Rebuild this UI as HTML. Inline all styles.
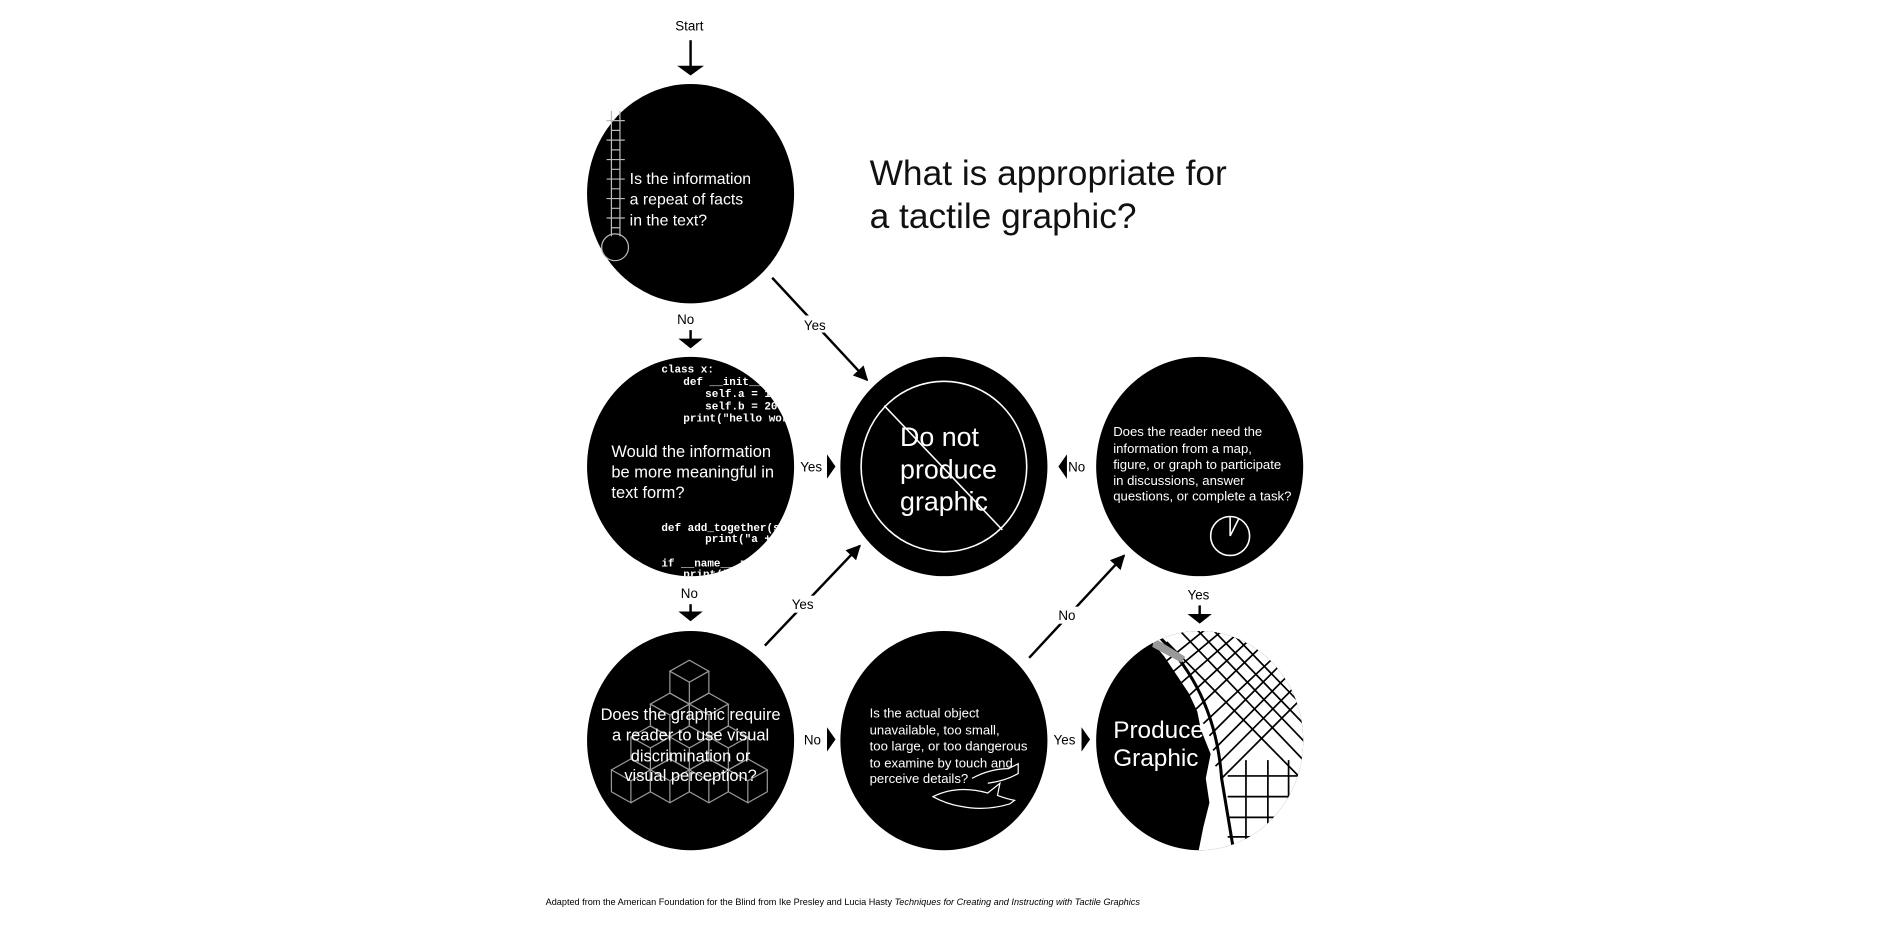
<!DOCTYPE html>
<html><head><meta charset="utf-8"><style>
html,body{margin:0;padding:0;background:#fff;}
svg{display:block;}
text{font-family:"Liberation Sans","DejaVu Sans",sans-serif;}
.w{fill:#fff;}
.l{font-size:11px;fill:#000;}
.code{font-family:"Liberation Mono",monospace;font-size:9px;fill:#fff;font-weight:bold;}
</style></head><body>
<svg width="1900" height="927" viewBox="0 0 1560 761" preserveAspectRatio="none" xmlns="http://www.w3.org/2000/svg">
<defs>
<marker id="ah" viewBox="0 0 10 10" refX="9" refY="5" markerWidth="12" markerHeight="12" orient="auto" markerUnits="userSpaceOnUse">
<path d="M0,0 L10,5 L0,10 z" fill="#000"/></marker>
<clipPath id="c2"><ellipse cx="569" cy="384" rx="85" ry="90"/></clipPath>
<clipPath id="c5"><ellipse cx="569" cy="609" rx="85" ry="90"/></clipPath>
<clipPath id="c7"><ellipse cx="987" cy="609" rx="85" ry="90"/></clipPath>
</defs>
<rect width="1560" height="761" fill="#fff"/>
<g transform="translate(-2,-1)">
<!-- Start -->
<text x="568" y="26" class="l" text-anchor="middle">Start</text>
<line x1="569" y1="34" x2="569" y2="62" stroke="#000" stroke-width="2"/>
<path d="M558,55 L569,63 L580,55 Z" fill="#000"/>

<!-- Title -->
<text x="716" y="153" font-size="29" fill="#111">What is appropriate for</text>
<text x="716" y="188" font-size="29" fill="#111">a tactile graphic?</text>

<!-- C1 -->
<ellipse cx="569" cy="160" rx="85" ry="90" fill="#000"/>
<g stroke="#bbb" stroke-width="1" fill="none">
<line x1="504" y1="92" x2="504" y2="195"/><line x1="511" y1="92" x2="511" y2="195"/>
<circle cx="507" cy="204" r="11"/>
<path d="M500,100h15M504,108h7M500,116h15M504,124h7M500,132h15M504,140h7M500,148h15M504,156h7M500,164h15M504,172h7M500,180h15M504,188h7"/>
</g>
<text x="519" y="152" font-size="13" class="w">Is the information</text>
<text x="519" y="169" font-size="13" class="w">a repeat of facts</text>
<text x="519" y="186" font-size="13" class="w">in the text?</text>

<text x="565" y="267" class="l" text-anchor="middle">No</text>
<line x1="569" y1="272" x2="569" y2="286" stroke="#000" stroke-width="2"/>
<path d="M559,279 L569,287 L579,279 Z" fill="#000"/>
<line x1="636" y1="229" x2="714" y2="313" stroke="#000" stroke-width="2" marker-end="url(#ah)"/>
<rect x="660" y="260" width="24" height="14" fill="#fff"/>
<text x="671" y="272" class="l" text-anchor="middle">Yes</text>

<!-- C2 -->
<ellipse cx="569" cy="384" rx="85" ry="90" fill="#000"/>
<g clip-path="url(#c2)">
<text x="545" y="307" class="code">class x:</text>
<text x="563" y="317" class="code">def __init__(self):</text>
<text x="581" y="327" class="code">self.a = 10</text>
<text x="581" y="337" class="code">self.b = 20</text>
<text x="563" y="347" class="code">print("hello world")</text>
<text x="545" y="437" class="code">def add_together(self):</text>
<text x="581" y="446" class="code">print("a + b")</text>
<text x="545" y="466" class="code">if __name__ == "__main__":</text>
<text x="563" y="475" class="code">print("x")</text>
</g>
<text x="504" y="376" font-size="13.5" class="w">Would the information</text>
<text x="504" y="393" font-size="13.5" class="w">be more meaningful in</text>
<text x="504" y="410" font-size="13.5" class="w">text form?</text>

<text x="668" y="388" class="l" text-anchor="middle">Yes</text>
<path d="M681,374 L688,384 L681,394 Z" fill="#000"/>
<text x="568" y="492" class="l" text-anchor="middle">No</text>
<line x1="569" y1="497" x2="569" y2="510" stroke="#000" stroke-width="2"/>
<path d="M559,503 L569,511 L579,503 Z" fill="#000"/>

<!-- C3 -->
<ellipse cx="777" cy="384" rx="85" ry="90" fill="#000"/>
<ellipse cx="777" cy="384" rx="68" ry="70" fill="none" stroke="#fff" stroke-width="1.3"/>
<line x1="728" y1="334" x2="825" y2="436" stroke="#fff" stroke-width="1.3"/>
<text x="741" y="367" font-size="22" class="w">Do not</text>
<text x="741" y="394" font-size="22" class="w">produce</text>
<text x="741" y="420" font-size="22" class="w">graphic</text>

<!-- C4 -->
<ellipse cx="987" cy="384" rx="85" ry="90" fill="#000"/>
<text x="916" y="359" font-size="10.8" class="w">Does the reader need the</text>
<text x="916" y="373" font-size="10.8" class="w">information from a map,</text>
<text x="916" y="386" font-size="10.8" class="w">figure, or graph to participate</text>
<text x="916" y="399" font-size="10.8" class="w">in discussions, answer</text>
<text x="916" y="412" font-size="10.8" class="w">questions, or complete a task?</text>
<circle cx="1012" cy="441" r="16" fill="none" stroke="#fff" stroke-width="1.3"/>
<line x1="1012" y1="441" x2="1012" y2="425" stroke="#fff" stroke-width="1.3"/>
<line x1="1012" y1="441" x2="1019" y2="427" stroke="#fff" stroke-width="1.3"/>

<path d="M878,374 L871,384 L878,394 Z" fill="#000"/>
<text x="886" y="388" class="l" text-anchor="middle">No</text>
<text x="986" y="493" class="l" text-anchor="middle">Yes</text>
<line x1="987" y1="498" x2="987" y2="512" stroke="#000" stroke-width="2"/>
<path d="M977,505 L987,513 L997,505 Z" fill="#000"/>

<!-- C5 -->
<ellipse cx="569" cy="609" rx="85" ry="90" fill="#000"/>
<g clip-path="url(#c5)" stroke="#999" stroke-width="1" fill="none">
<g id="cube"><path d="M0,0 l16,-9 l16,9 l-16,9 z M0,0 v18 l16,9 v-18 M32,0 v18 l-16,9"/></g>
<use href="#cube" x="552" y="552"/>
<use href="#cube" x="536" y="579"/><use href="#cube" x="568" y="579"/>
<use href="#cube" x="520" y="606"/><use href="#cube" x="552" y="606"/><use href="#cube" x="584" y="606"/>
<use href="#cube" x="504" y="633"/><use href="#cube" x="536" y="633"/><use href="#cube" x="568" y="633"/><use href="#cube" x="600" y="633"/>
</g>
<text x="569" y="592" font-size="13.5" class="w" text-anchor="middle">Does the graphic require</text>
<text x="569" y="609" font-size="13.5" class="w" text-anchor="middle">a reader to use visual</text>
<text x="569" y="626" font-size="13.5" class="w" text-anchor="middle">discrimination or</text>
<text x="569" y="642" font-size="13.5" class="w" text-anchor="middle">visual perception?</text>

<line x1="630" y1="531" x2="708" y2="449" stroke="#000" stroke-width="2" marker-end="url(#ah)"/>
<rect x="650" y="490" width="24" height="14" fill="#fff"/>
<text x="661" y="501" class="l" text-anchor="middle">Yes</text>
<text x="669" y="612" class="l" text-anchor="middle">No</text>
<path d="M681,598 L688,608 L681,618 Z" fill="#000"/>

<!-- C6 -->
<ellipse cx="777" cy="609" rx="85" ry="90" fill="#000"/>
<text x="716" y="590" font-size="10.8" class="w">Is the actual object</text>
<text x="716" y="604" font-size="10.8" class="w">unavailable, too small,</text>
<text x="716" y="617" font-size="10.8" class="w">too large, or too dangerous</text>
<text x="716" y="631" font-size="10.8" class="w">to examine by touch and</text>
<text x="716" y="644" font-size="10.8" class="w">perceive details?</text>
<g stroke="#fff" stroke-width="1" fill="none">
<path d="M768,655 q20,-10 45,-3 l10,-8 l-2,10 q8,3 14,4 l-4,3 q-20,6 -40,2 q-12,-2 -23,-8 z"/>
<path d="M800,640 q15,-8 30,-8 l8,-4 l0,8 q-10,6 -25,8"/>
</g>

<line x1="847" y1="541" x2="925" y2="457" stroke="#000" stroke-width="2" marker-end="url(#ah)"/>
<rect x="867" y="499" width="22" height="14" fill="#fff"/>
<text x="878" y="510" class="l" text-anchor="middle">No</text>
<text x="876" y="612" class="l" text-anchor="middle">Yes</text>
<path d="M890,598 L897,608 L890,618 Z" fill="#000"/>

<!-- C7 -->
<ellipse cx="987" cy="609" rx="85" ry="90" fill="#000"/>
<g clip-path="url(#c7)">
<path d="M945,515 L1080,515 L1080,705 L985,705 L990,680 L995,660 L992,640 L996,620 L988,600 L985,585 L978,570 L968,555 L958,540 L948,528 Z" fill="#fff"/>
<g stroke="#000" stroke-width="1.4">
<path d="M960,528 L1075,645 M970,518 L1075,628 M982,515 L1075,612 M995,515 L1075,598 M1008,515 L1075,584 M1022,515 L1075,570 M1036,515 L1075,556 M1050,515 L1075,542"/>
<path d="M1080,520 L995,605 M1080,535 L998,617 M1080,550 L1000,630 M1080,565 L1005,640 M1070,520 L990,595 M1055,515 L982,585 M1040,515 L975,575 M1025,515 L968,565 M1010,515 L962,555 M995,515 L958,545"/>
<path d="M1010,638 H1080 M1010,655 H1080 M1010,672 H1080 M1010,688 H1080 M1025,625 V705 M1043,625 V705 M1060,625 V705"/>
<path d="M955,525 Q1000,570 1005,640 L1015,700" fill="none" stroke-width="2.5"/>
</g>
<path d="M950,525 L975,540 L972,545 L948,532 Z" fill="#999"/>
</g>
<text x="916" y="607" font-size="20" class="w">Produce</text>
<text x="916" y="630" font-size="20" class="w">Graphic</text>

<text x="450" y="744" font-size="7.5" fill="#000">Adapted from the American Foundation for the Blind from Ike Presley and Lucia Hasty <tspan font-style="italic">Techniques for Creating and Instructing with Tactile Graphics</tspan></text>
</g>
</svg>
</body></html>
